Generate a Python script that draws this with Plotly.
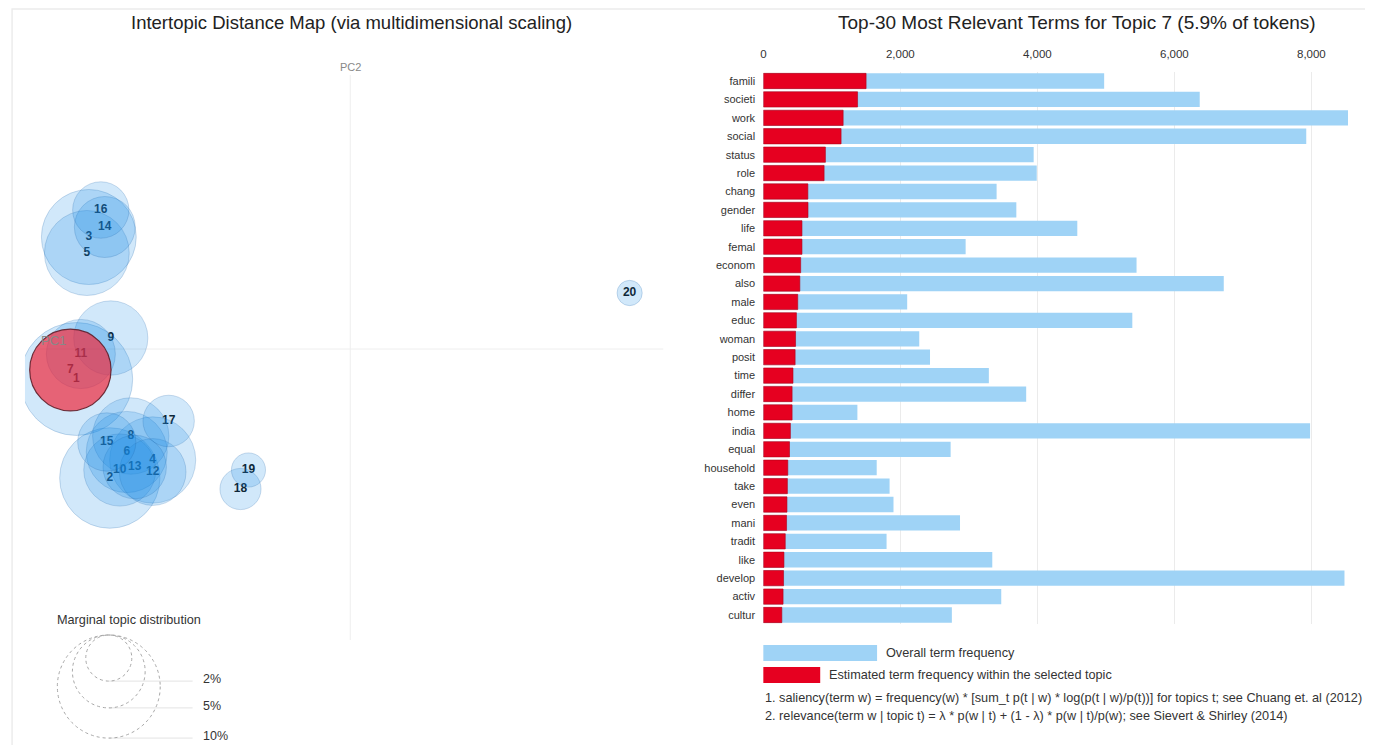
import numpy as np
import plotly.graph_objects as go

# page body has an 8px margin: figure is 1357x737 placed at (8, 8)
OFF = 8
W, H = 1373 - 2 * OFF, 753 - 2 * OFF
FONT = "Liberation Sans, Arial, sans-serif"

# ---------------- data ----------------
topic_ids = list(range(1, 21))
topic_pct = [12.0, 9.5, 8.5, 7.0, 6.8, 6.2, 5.9, 5.5, 5.2, 4.9,
             4.5, 4.2, 3.8, 3.5, 3.2, 3.0, 2.5, 1.6, 1.1, 0.6]
pc1 = [-0.2745, -0.241, -0.262, -0.198, -0.264, -0.224, -0.2805, -0.220, -0.240, -0.231,
       -0.270, -0.198, -0.216, -0.246, -0.244, -0.250, -0.182, -0.110, -0.102, 0.280]
pc2 = [-0.030, -0.129, 0.112, -0.111, 0.096, -0.103, -0.021, -0.087, 0.011, -0.121,
       -0.005, -0.123, -0.118, 0.122, -0.093, 0.139, -0.072, -0.140, -0.121, 0.056]
selected_topic = 7
legend_pcts = [2, 5, 10]

terms = ["famili", "societi", "work", "social", "status", "role", "chang", "gender", "life", "femal",
         "econom", "also", "male", "educ", "woman", "posit", "time", "differ", "home", "india",
         "equal", "household", "take", "even", "mani", "tradit", "like", "develop", "activ", "cultur"]
overall = [4975, 6370, 8535, 7925, 3946, 3991, 3405, 3693, 4583, 2953,
           5448, 6721, 2100, 5386, 2276, 2433, 3292, 3837, 1373, 7981,
           2734, 1655, 1843, 1900, 2871, 1799, 3342, 8483, 3473, 2752]
in_topic = [1500, 1375, 1165, 1135, 906, 887, 650, 652, 564, 564,
            545, 533, 502, 483, 470, 464, 433, 420, 420, 395,
            382, 357, 351, 345, 339, 320, 301, 295, 288, 270]
x_ticks = [0, 2000, 4000, 6000, 8000]

# ---------------- helpers (window pixel -> paper) ----------------
def PX(px):
    return (px - OFF) / W

def PY(py):
    return 1 - (py - OFF) / H

fig = go.Figure()

# ---------------- left panel : intertopic map ----------------
K = 0.0163  # radius (data units) per sqrt(percent)
x_lo, x_hi = -0.326, 0.314
y_lo, y_hi = -0.396, 0.289

fig.add_trace(go.Scatter(
    x=pc1, y=pc2, mode="text", text=[str(t) for t in topic_ids],
    textfont=dict(family=FONT, size=12, color="#0d0d0d", weight="bold"),
    xaxis="x", yaxis="y", hoverinfo="skip", showlegend=False))

shapes = []
# panel border
shapes.append(dict(type="rect", xref="paper", yref="paper", x0=0.0008, x1=1.02, y0=-0.02, y1=0.9988,
                   line=dict(color="#ececec", width=1.5), fillcolor="rgba(0,0,0,0)", layer="below"))
# PC axes lines
shapes.append(dict(type="line", xref="x", yref="y", x0=0, x1=0, y0=-0.291, y1=0.274,
                   line=dict(color="#eeeeee", width=1), layer="below"))
shapes.append(dict(type="line", xref="x", yref="y", x0=x_lo + 0.012, x1=x_hi, y0=0, y1=0,
                   line=dict(color="#eeeeee", width=1), layer="below"))

# topic circles (non-selected first, selected last)
order = [i for i in range(20) if topic_ids[i] != selected_topic] + \
        [i for i in range(20) if topic_ids[i] == selected_topic]
for i in order:
    r = K * np.sqrt(topic_pct[i])
    if topic_ids[i] == selected_topic:
        r *= 1.03
        fill, line = "rgba(240,35,55,0.68)", dict(color="rgba(90,20,30,0.85)", width=1.2)
    else:
        fill, line = "rgba(25,140,228,0.2)", dict(color="rgba(30,100,170,0.22)", width=1)
    shapes.append(dict(type="circle", xref="x", yref="y",
                       x0=pc1[i] - r, x1=pc1[i] + r, y0=pc2[i] - r, y1=pc2[i] + r,
                       fillcolor=fill, line=line, layer="above"))

# marginal topic distribution legend
leg_cx = -0.242
leg_top = -0.286
leg_line_end = -0.158
annotations = []
for p in legend_pcts:
    r = K * np.sqrt(p)
    cy = leg_top - r
    shapes.append(dict(type="circle", xref="x", yref="y",
                       x0=leg_cx - r, x1=leg_cx + r, y0=cy - r, y1=cy + r,
                       fillcolor="rgba(0,0,0,0)", line=dict(color="#a8a8a8", width=1, dash="dot"),
                       layer="above"))
    shapes.append(dict(type="line", xref="x", yref="y",
                       x0=leg_cx, x1=leg_line_end, y0=cy - r, y1=cy - r,
                       line=dict(color="#e3e3e3", width=1), layer="below"))
    annotations.append(dict(xref="x", yref="y", x=leg_line_end + 0.008, y=cy - r + 0.002, text=f"{p}%",
                            showarrow=False, xanchor="left", yanchor="middle",
                            font=dict(family=FONT, size=12.5, color="#333333")))

annotations += [
    dict(xref="paper", yref="paper", x=PX(349), y=PY(22), text="Intertopic Distance Map (via multidimensional scaling)",
         showarrow=False, xanchor="center", yanchor="middle", font=dict(family=FONT, size=18.5, color="#222222")),
    dict(xref="x", yref="y", x=0, y=0.282, text="PC2", showarrow=False, xanchor="center", yanchor="middle",
         font=dict(family=FONT, size=11, color="#888888")),
    dict(xref="x", yref="y", x=-0.297, y=0.009, text="PC1", showarrow=False, xanchor="center", yanchor="middle",
         font=dict(family=FONT, size=13, color="#888888")),
    dict(xref="paper", yref="paper", x=PX(52), y=PY(620), text="Marginal topic distribution",
         showarrow=False, xanchor="left", yanchor="middle", font=dict(family=FONT, size=12.7, color="#333333")),
]

# ---------------- right panel : bar chart ----------------
BLUE = "#9fd3f6"
RED = "#e60020"
fig.add_trace(go.Bar(y=terms, x=overall, orientation="h", marker=dict(color=BLUE, line=dict(width=0)),
                     xaxis="x2", yaxis="y2", name="Overall term frequency", showlegend=False))
fig.add_trace(go.Bar(y=terms, x=in_topic, orientation="h",
                     marker=dict(color=RED, line=dict(color="#b00018", width=0.6)),
                     xaxis="x2", yaxis="y2", name="Estimated term frequency within the selected topic",
                     showlegend=False))

annotations += [
    dict(xref="paper", yref="paper", x=PX(1076), y=PY(22), text="Top-30 Most Relevant Terms for Topic 7 (5.9% of tokens)",
         showarrow=False, xanchor="center", yanchor="middle", font=dict(family=FONT, size=19, color="#222222")),
    dict(xref="paper", yref="paper", x=PX(883), y=PY(653), text="Overall term frequency",
         showarrow=False, xanchor="left", yanchor="middle", font=dict(family=FONT, size=12.7, color="#333333")),
    dict(xref="paper", yref="paper", x=PX(826), y=PY(675), text="Estimated term frequency within the selected topic",
         showarrow=False, xanchor="left", yanchor="middle", font=dict(family=FONT, size=12.7, color="#333333")),
    dict(xref="paper", yref="paper", x=PX(762), y=PY(698),
         text="1. saliency(term w) = frequency(w) * [sum_t p(t | w) * log(p(t | w)/p(t))] for topics t; see Chuang et. al (2012)",
         showarrow=False, xanchor="left", yanchor="middle", font=dict(family=FONT, size=12.7, color="#333333")),
    dict(xref="paper", yref="paper", x=PX(762), y=PY(716),
         text="2. relevance(term w | topic t) = \u03bb * p(w | t) + (1 - \u03bb) * p(w | t)/p(w); see Sievert & Shirley (2014)",
         showarrow=False, xanchor="left", yanchor="middle", font=dict(family=FONT, size=12.7, color="#333333")),
]
shapes += [
    dict(type="rect", xref="paper", yref="paper", x0=PX(762), x1=PX(876), y0=PY(661), y1=PY(645),
         fillcolor=BLUE, line=dict(width=0)),
    dict(type="rect", xref="paper", yref="paper", x0=PX(762), x1=PX(819), y0=PY(683), y1=PY(667),
         fillcolor=RED, line=dict(width=0)),
]

fig.update_layout(
    width=W, height=H, margin=dict(l=0, r=0, t=0, b=0),
    paper_bgcolor="white", plot_bgcolor="white",
    barmode="overlay", bargap=0.17,
    shapes=shapes, annotations=annotations, showlegend=False,
    font=dict(family=FONT, size=11, color="#333333"),
    xaxis=dict(domain=[PX(22), PX(662)], range=[x_lo, x_hi], visible=False, fixedrange=True),
    yaxis=dict(domain=[PY(745), PY(60)], range=[y_lo, y_hi], visible=False, fixedrange=True),
    xaxis2=dict(domain=[PX(762), PX(1348)], range=[0, max(overall)], side="top", anchor="y2",
                tickvals=x_ticks, tickformat=",", showgrid=True, gridcolor="#ebebeb", zeroline=False,
                showline=False, ticks="outside", ticklen=8, tickcolor="rgba(0,0,0,0)",
                tickfont=dict(family=FONT, size=11.5, color="#333333")),
    yaxis2=dict(domain=[PY(624.2), PY(71.8)], anchor="x2", categoryorder="array", categoryarray=terms,
                autorange="reversed", showgrid=False, zeroline=False, showline=False,
                ticks="outside", ticklen=5, tickcolor="rgba(0,0,0,0)",
                tickfont=dict(family=FONT, size=11, color="#333333")),
)

fig.write_html("out.html")
